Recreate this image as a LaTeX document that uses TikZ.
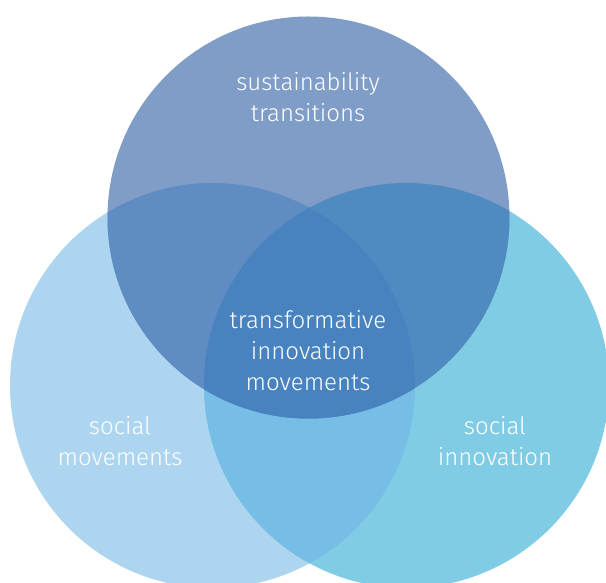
\documentclass[tikz,border=0pt]{standalone}
\usepackage{fontspec}
\setmainfont{Fira Sans}[UprightFont=* Light]
\usepackage{tikz}
\usetikzlibrary{positioning, calc}
\definecolor{transblue}{RGB}{127, 157, 199}
\definecolor{movblue}{RGB}{173, 213, 240}
\definecolor{innoblue}{RGB}{128, 204, 228}
\definecolor{movinno}{RGB}{118, 190, 229}
\definecolor{transmov}{RGB}{95, 140, 195}
\definecolor{transinno}{RGB}{79, 139, 192}
\definecolor{coreblue}{RGB}{72, 131, 192}

\begin{document}
\begin{tikzpicture}[
  x=1pt, y=1pt,
  vlabel/.style={text=white, align=center, font=\fontsize{24}{31}\selectfont, inner sep=0pt}
]
  \useasboundingbox (0,0) rectangle (606,583);
  \coordinate (transc) at (308.5, 365.5);
  \coordinate (movc) at (212.5, 197.5);
  \coordinate (innoc) at (406.5, 197.5);
  % plain circles
  \fill[movblue] (movc) circle[radius=202.5pt];
  \fill[innoblue] (innoc) circle[radius=202.5pt];
  \fill[transblue] (transc) circle[radius=201pt];
  % overlaps
  \begin{scope}
    \clip (movc) circle[radius=202.5pt];
    \fill[movinno] (innoc) circle[radius=202.5pt];
  \end{scope}
  \begin{scope}
    \clip (transc) circle[radius=201pt];
    \fill[transmov] (movc) circle[radius=202.5pt];
    \fill[transinno] (innoc) circle[radius=202.5pt];
    \clip (movc) circle[radius=202.5pt];
    \fill[coreblue] (innoc) circle[radius=202.5pt];
  \end{scope}
  % labels
  \node[vlabel] (trans) at (308, 486) {sustainability\\transitions};
  \node[vlabel] (core) at (308, 232) {transformative\\innovation\\movements};
  \node[vlabel] (mov) at (120, 142) {social\\movements};
  \node[vlabel] (inno) at (495, 142) {social\\innovation};
\end{tikzpicture}
\end{document}
